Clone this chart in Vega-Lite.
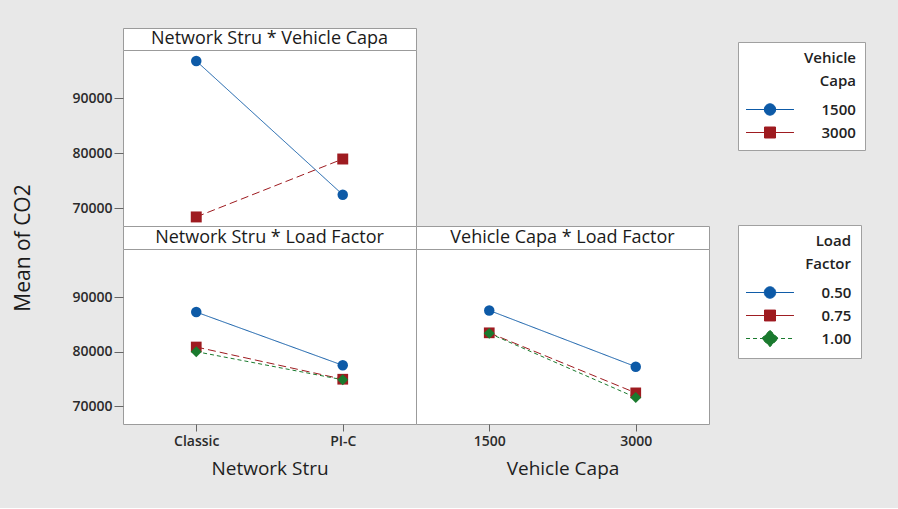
{
  "$schema": "https://vega.github.io/schema/vega-lite/v6.json",
  "background": "#e8e8e8",
  "padding": {"left": 13, "top": 27, "right": 33, "bottom": 29},
  "datasets": {
    "ns_vc": [
      {"Network Stru": "Classic", "Vehicle Capa": "1500", "Mean of CO2": 96800},
      {"Network Stru": "PI-C", "Vehicle Capa": "1500", "Mean of CO2": 72450},
      {"Network Stru": "Classic", "Vehicle Capa": "3000", "Mean of CO2": 68400},
      {"Network Stru": "PI-C", "Vehicle Capa": "3000", "Mean of CO2": 78950}
    ],
    "ns_lf": [
      {"Network Stru": "Classic", "Load Factor": "0.50", "Mean of CO2": 87250},
      {"Network Stru": "PI-C", "Load Factor": "0.50", "Mean of CO2": 77500},
      {"Network Stru": "Classic", "Load Factor": "0.75", "Mean of CO2": 80850},
      {"Network Stru": "PI-C", "Load Factor": "0.75", "Mean of CO2": 74950},
      {"Network Stru": "Classic", "Load Factor": "1.00", "Mean of CO2": 80000},
      {"Network Stru": "PI-C", "Load Factor": "1.00", "Mean of CO2": 74850}
    ],
    "vc_lf": [
      {"Vehicle Capa": "1500", "Load Factor": "0.50", "Mean of CO2": 87550},
      {"Vehicle Capa": "3000", "Load Factor": "0.50", "Mean of CO2": 77250},
      {"Vehicle Capa": "1500", "Load Factor": "0.75", "Mean of CO2": 83450},
      {"Vehicle Capa": "3000", "Load Factor": "0.75", "Mean of CO2": 72450},
      {"Vehicle Capa": "1500", "Load Factor": "1.00", "Mean of CO2": 83350},
      {"Vehicle Capa": "3000", "Load Factor": "1.00", "Mean of CO2": 71600}
    ]
  },
  "config": {
    "font": "Open Sans",
    "view": {"stroke": "#9b9b9b", "fill": "white"},
    "axis": {
      "grid": false,
      "domain": false,
      "tickColor": "#666666",
      "labelColor": "#2b2b2b",
      "titleColor": "#1e1e1e",
      "labelFont": "Open Sans",
      "titleFont": "Open Sans",
      "titleFontWeight": "normal",
      "labelFontWeight": 600
    },
    "legend": {
      "padding": 9,
      "strokeColor": "#a0a0a0",
      "fillColor": "white",
      "titleFont": "Open Sans",
      "labelFont": "Open Sans",
      "titleFontSize": 15,
      "labelFontSize": 15,
      "titleFontWeight": 600,
      "labelFontWeight": 600,
      "titleColor": "#222222",
      "labelColor": "#222222",
      "titleAnchor": "end",
      "titleAlign": "right",
      "titleLineHeight": 23,
      "titlePadding": 9,
      "symbolSize": 484,
      "symbolStrokeWidth": 1,
      "symbolOffset": 11.5,
      "labelOffset": 40,
      "rowPadding": 3
    }
  },
  "spacing": 37,
  "hconcat": [
    {
      "data": {"values": [{"label": "Mean of CO2"}]},
      "width": 20,
      "height": 440,
      "view": {"stroke": null, "fill": null},
      "mark": {"type": "text", "angle": 270, "fontSize": 21, "color": "#1a1a1a"},
      "encoding": {"text": {"field": "label"}}
    },
    {
      "columns": 2,
      "spacing": 0,
      "bounds": "flush",
      "resolve": {"scale": {"color": "independent", "stroke": "independent", "shape": "independent", "strokeDash": "independent", "size": "independent"}},
      "concat": [
        {
          "data": {"values": [{"title": "Network Stru * Vehicle Capa"}]},
          "width": 293,
          "height": 22,
          "mark": {"type": "text", "fontSize": 18, "color": "#1a1a1a"},
          "encoding": {
            "x": {"field": "title", "type": "nominal", "axis": null},
            "text": {"field": "title"}
          }
        },
        {
          "data": {"values": []},
          "width": 293,
          "height": 22,
          "view": {"stroke": null, "fill": null},
          "mark": "text",
          "encoding": {}
        },
        {
          "data": {"name": "ns_vc"},
          "width": 293,
          "height": 176,
          "encoding": {
            "x": {"field": "Network Stru", "type": "nominal", "sort": null, "scale": {"type": "point", "padding": 0.5}, "axis": null},
            "y": {
              "field": "Mean of CO2", "type": "quantitative",
              "scale": {"domain": [66750, 98800], "nice": false, "zero": false},
              "axis": {"title": null, "values": [70000, 80000, 90000], "format": "d", "tickSize": 9, "labelPadding": 2, "labelFontSize": 14}
            }
          },
          "resolve": {"scale": {"color": "independent", "stroke": "independent", "shape": "independent", "strokeDash": "independent", "size": "independent"}},
          "layer": [
            {
              "mark": {"type": "line", "strokeWidth": 1},
              "encoding": {
                "stroke": {"field": "Vehicle Capa", "type": "nominal", "scale": {"range": ["#0d5aa7", "#9e1b20"]}, "legend": null},
                "strokeDash": {"field": "Vehicle Capa", "type": "nominal", "scale": {"range": [[1, 0], [8, 4]]}, "legend": null}
              }
            },
            {
              "mark": {"type": "point", "filled": true, "opacity": 1},
              "encoding": {
                "color": {"field": "Vehicle Capa", "type": "nominal", "scale": {"range": ["#0d5aa7", "#9e1b20"]}, "legend": null},
                "shape": {"field": "Vehicle Capa", "type": "nominal", "scale": {"range": ["circle", "square"]}, "legend": null},
                "size": {"field": "Vehicle Capa", "type": "nominal", "scale": {"range": [110, 120]}, "legend": null}
              }
            },
            {
              "transform": [{"filter": "false"}],
              "mark": {"type": "point", "filled": true, "opacity": 1},
              "encoding": {
                "color": {
                  "field": "Vehicle Capa", "type": "nominal",
                  "scale": {"domain": ["1500", "3000"], "range": ["#0d5aa7", "#9e1b20"]},
                  "legend": {"orient": "none", "legendX": 615, "legendY": -8, "title": ["Vehicle", "Capa"]}
                },
                "stroke": {
                  "field": "Vehicle Capa", "type": "nominal",
                  "scale": {"domain": ["1500", "3000"], "range": ["#0d5aa7", "#9e1b20"]}
                },
                "shape": {
                  "field": "Vehicle Capa", "type": "nominal",
                  "scale": {
                    "domain": ["1500", "3000"],
                    "range": [
                      "M-2.18,0H2.18M-0.52,0A0.52,0.52,0,1,0,0.52,0A0.52,0.52,0,1,0,-0.52,0Z",
                      "M-2.18,0H2.18M-0.5,-0.5H0.5V0.5H-0.5Z"
                    ]
                  }
                }
              }
            }
          ]
        },
        {
          "data": {"values": []},
          "width": 293,
          "height": 176,
          "view": {"stroke": null, "fill": null},
          "mark": "text",
          "encoding": {}
        },
        {
          "data": {"values": [{"title": "Network Stru * Load Factor"}]},
          "width": 293,
          "height": 23,
          "mark": {"type": "text", "fontSize": 18, "color": "#1a1a1a"},
          "encoding": {
            "x": {"field": "title", "type": "nominal", "axis": null},
            "text": {"field": "title"}
          }
        },
        {
          "data": {"values": [{"title": "Vehicle Capa * Load Factor"}]},
          "width": 293,
          "height": 23,
          "mark": {"type": "text", "fontSize": 18, "color": "#1a1a1a"},
          "encoding": {
            "x": {"field": "title", "type": "nominal", "axis": null},
            "text": {"field": "title"}
          }
        },
        {
          "data": {"name": "ns_lf"},
          "width": 293,
          "height": 175,
          "encoding": {
            "x": {
              "field": "Network Stru", "type": "nominal", "sort": null,
              "scale": {"type": "point", "padding": 0.5},
              "axis": {"title": "Network Stru", "labelAngle": 0, "tickSize": 7, "labelPadding": 3, "titlePadding": 11, "labelFontSize": 14, "titleFontSize": 19}
            },
            "y": {
              "field": "Mean of CO2", "type": "quantitative",
              "scale": {"domain": [66750, 98800], "nice": false, "zero": false},
              "axis": {"title": null, "values": [70000, 80000, 90000], "format": "d", "tickSize": 9, "labelPadding": 2, "labelFontSize": 14}
            }
          },
          "resolve": {"scale": {"color": "independent", "stroke": "independent", "shape": "independent", "strokeDash": "independent", "size": "independent"}},
          "layer": [
            {
              "mark": {"type": "line", "strokeWidth": 1},
              "encoding": {
                "stroke": {"field": "Load Factor", "type": "nominal", "scale": {"range": ["#0d5aa7", "#9e1b20", "#1a7a2e"]}, "legend": null},
                "strokeDash": {"field": "Load Factor", "type": "nominal", "scale": {"range": [[1, 0], [8, 4], [4, 3]]}, "legend": null}
              }
            },
            {
              "mark": {"type": "point", "filled": true, "opacity": 1},
              "encoding": {
                "color": {"field": "Load Factor", "type": "nominal", "scale": {"range": ["#0d5aa7", "#9e1b20", "#1a7a2e"]}, "legend": null},
                "shape": {"field": "Load Factor", "type": "nominal", "scale": {"range": ["circle", "square", "diamond"]}, "legend": null},
                "size": {"field": "Load Factor", "type": "nominal", "scale": {"range": [110, 120, 160]}, "legend": null}
              }
            },
            {
              "transform": [{"filter": "false"}],
              "mark": {"type": "point", "filled": true, "opacity": 1},
              "encoding": {
                "color": {
                  "field": "Load Factor", "type": "nominal",
                  "scale": {"domain": ["0.50", "0.75", "1.00"], "range": ["#0d5aa7", "#9e1b20", "#1a7a2e"]},
                  "legend": {"orient": "none", "legendX": 615, "legendY": -24, "title": ["Load", "Factor"]}
                },
                "stroke": {
                  "field": "Load Factor", "type": "nominal",
                  "scale": {"domain": ["0.50", "0.75", "1.00"], "range": ["#0d5aa7", "#9e1b20", "#1a7a2e"]}
                },
                "strokeDash": {
                  "field": "Load Factor", "type": "nominal",
                  "scale": {"domain": ["0.50", "0.75", "1.00"], "range": [[1, 0], [1, 0], [4, 3]]}
                },
                "shape": {
                  "field": "Load Factor", "type": "nominal",
                  "scale": {
                    "domain": ["0.50", "0.75", "1.00"],
                    "range": [
                      "M-2.18,0H2.18M-0.52,0A0.52,0.52,0,1,0,0.52,0A0.52,0.52,0,1,0,-0.52,0Z",
                      "M-2.18,0H2.18M-0.5,-0.5H0.5V0.5H-0.5Z",
                      "M-2.18,0H2.18M0,-0.75L0.75,0L0,0.75L-0.75,0Z"
                    ]
                  }
                }
              }
            }
          ]
        },
        {
          "data": {"name": "vc_lf"},
          "width": 293,
          "height": 175,
          "encoding": {
            "x": {
              "field": "Vehicle Capa", "type": "nominal", "sort": null,
              "scale": {"type": "point", "padding": 0.5},
              "axis": {"title": "Vehicle Capa", "labelAngle": 0, "tickSize": 7, "labelPadding": 3, "titlePadding": 11, "labelFontSize": 14, "titleFontSize": 19}
            },
            "y": {
              "field": "Mean of CO2", "type": "quantitative",
              "scale": {"domain": [66750, 98800], "nice": false, "zero": false},
              "axis": null
            }
          },
          "layer": [
            {
              "mark": {"type": "line", "strokeWidth": 1},
              "encoding": {
                "stroke": {"field": "Load Factor", "type": "nominal", "scale": {"range": ["#0d5aa7", "#9e1b20", "#1a7a2e"]}, "legend": null},
                "strokeDash": {"field": "Load Factor", "type": "nominal", "scale": {"range": [[1, 0], [8, 4], [4, 3]]}, "legend": null}
              }
            },
            {
              "mark": {"type": "point", "filled": true, "opacity": 1},
              "encoding": {
                "color": {"field": "Load Factor", "type": "nominal", "scale": {"range": ["#0d5aa7", "#9e1b20", "#1a7a2e"]}, "legend": null},
                "shape": {"field": "Load Factor", "type": "nominal", "scale": {"range": ["circle", "square", "diamond"]}, "legend": null},
                "size": {"field": "Load Factor", "type": "nominal", "scale": {"range": [110, 120, 160]}, "legend": null}
              }
            }
          ]
        }
      ]
    }
  ]
}
